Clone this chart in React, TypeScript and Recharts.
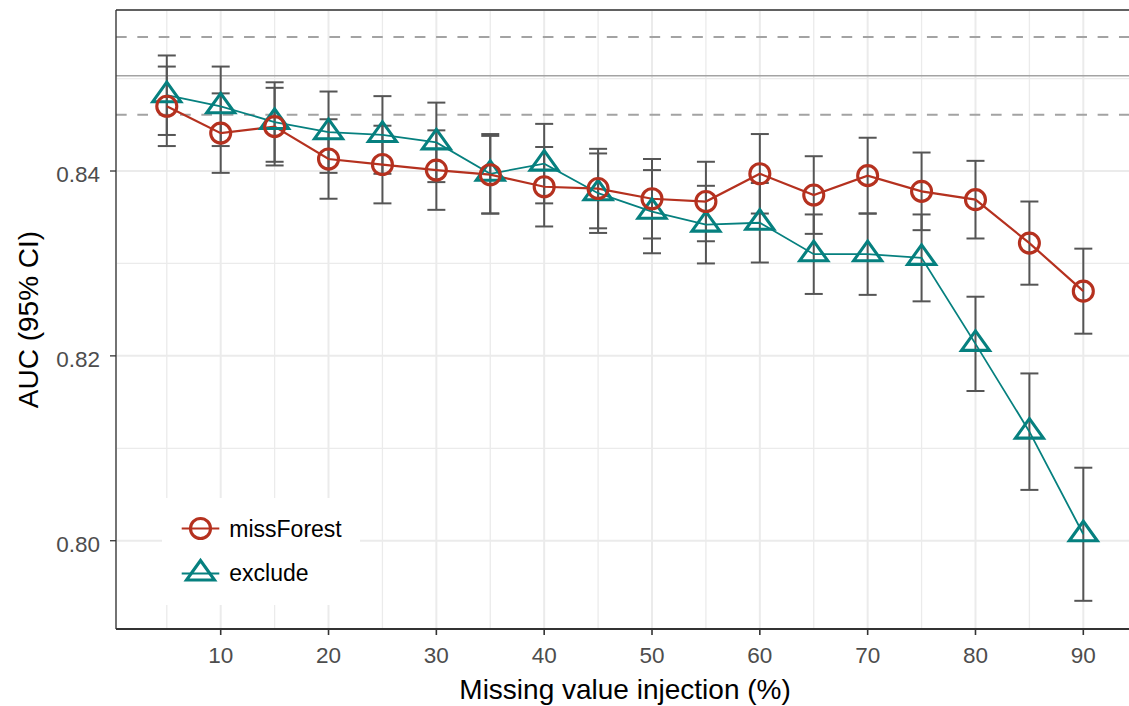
import React from 'react';
import { ComposedChart, Line, XAxis, YAxis, ReferenceLine, ErrorBar, CartesianGrid } from 'recharts';

const injection = [5, 10, 15, 20, 25, 30, 35, 40, 45, 50, 55, 60, 65, 70, 75, 80, 85, 90];
const missForestAUC = [0.8470, 0.8441, 0.8448, 0.8413, 0.8407, 0.8401, 0.8396, 0.8383, 0.8381, 0.8370, 0.8367, 0.8397, 0.8374, 0.8395, 0.8378, 0.8369, 0.8322, 0.8270];
const missForestCI = [0.0043, 0.0043, 0.0042, 0.0043, 0.0042, 0.0043, 0.0042, 0.0043, 0.0043, 0.0043, 0.0043, 0.0043, 0.0042, 0.0041, 0.0042, 0.0042, 0.0045, 0.0046];
const excludeAUC = [0.8482, 0.8470, 0.8453, 0.8442, 0.8439, 0.8431, 0.8397, 0.8408, 0.8376, 0.8356, 0.8342, 0.8344, 0.8310, 0.8310, 0.8306, 0.8213, 0.8118, 0.8007];
const excludeCI = [0.0043, 0.0043, 0.0043, 0.0044, 0.0042, 0.0043, 0.0043, 0.0043, 0.0043, 0.0045, 0.0042, 0.0043, 0.0043, 0.0044, 0.0047, 0.0051, 0.0063, 0.0072];

const xTicks = [10, 20, 30, 40, 50, 60, 70, 80, 90];
const xMinor = [5, 15, 25, 35, 45, 55, 65, 75, 85];
const yTicks = [0.8, 0.82, 0.84];
const yTickLabels = ['0.80', '0.82', '0.84'];
const yMinor = [0.81, 0.83, 0.85];
const xDomain = [0.29, 94.71];
const yDomain = [0.79045, 0.85742];

const refMean = 0.8503;
const refLow = 0.8461;
const refHigh = 0.8545;

const seriesNames = ['missForest', 'exclude'];
const RED = '#B5311F';
const TEAL = '#06807F';
const FONT = '"Liberation Sans", Arial, Helvetica, sans-serif';

const data = injection.map((x, i) => ({
  x,
  mf: missForestAUC[i],
  mfErr: missForestCI[i],
  ex: excludeAUC[i],
  exErr: excludeCI[i],
}));

const CircleDot = (props: any) => {
  const { cx, cy, index } = props;
  if (cx == null || cy == null) return <g key={`c${index}`} />;
  return <circle key={`c${index}`} cx={cx} cy={cy} r={10} fill="none" stroke={RED} strokeWidth={3.1} />;
};

const triPath = (cx: number, cy: number) =>
  `M${cx},${cy - 13} L${cx + 14},${cy + 6.5} L${cx - 14},${cy + 6.5} Z`;

const TriangleDot = (props: any) => {
  const { cx, cy, index } = props;
  if (cx == null || cy == null) return <g key={`t${index}`} />;
  return <path key={`t${index}`} d={triPath(cx, cy)} fill="none" stroke={TEAL} strokeWidth={3.1} strokeLinejoin="miter" />;
};

const XTick = (props: any) => {
  const { x, y, payload } = props;
  return (
    <text x={x} y={y + 25.5} textAnchor="middle" fill="#4D4D4D" fontSize={22.5} fontFamily={FONT}>
      {payload.value}
    </text>
  );
};

const YTick = (props: any) => {
  const { x, y, payload } = props;
  const idx = yTicks.findIndex((v) => Math.abs(v - payload.value) < 1e-6);
  const label = idx >= 0 ? yTickLabels[idx] : String(payload.value);
  return (
    <text x={x - 8} y={y + 11.3} textAnchor="end" fill="#4D4D4D" fontSize={22.5} fontFamily={FONT}>
      {label}
    </text>
  );
};

const YTitle = (props: any) => {
  const vb = props.viewBox || { x: 16, y: 10, width: 100, height: 619 };
  const cy = vb.y + vb.height / 2;
  return (
    <text x={37.5} y={cy} transform={`rotate(-90, 37.5, ${cy})`} textAnchor="middle" fill="#000" fontSize={28} fontFamily={FONT}>
      AUC (95% CI)
    </text>
  );
};

const XTitle = (props: any) => {
  const vb = props.viewBox || { x: 116, y: 629, width: 1018, height: 50 };
  const cx = vb.x + vb.width / 2;
  return (
    <text x={cx} y={699} textAnchor="middle" fill="#000" fontSize={28} fontFamily={FONT}>
      Missing value injection (%)
    </text>
  );
};

export default function App() {
  return (
    <div style={{ position: 'absolute', left: 0, top: 0, width: 1129, height: 706, overflow: 'hidden', background: '#fff' }}>
      <ComposedChart width={1140} height={706} data={data} margin={{ top: 10, right: 5.9, bottom: 27, left: 16 }}>
        <CartesianGrid xAxisId="minor" yAxisId="minor" stroke="#EBEBEB" strokeWidth={1.3} />
        <CartesianGrid stroke="#EBEBEB" strokeWidth={2} />
        <XAxis xAxisId="minor" dataKey="x" type="number" domain={xDomain} ticks={xMinor} allowDataOverflow hide />
        <YAxis yAxisId="minor" type="number" domain={yDomain} ticks={yMinor} allowDataOverflow hide />
        <XAxis
          dataKey="x"
          type="number"
          domain={xDomain}
          ticks={xTicks}
          allowDataOverflow
          height={50}
          tickSize={6}
          axisLine={{ stroke: '#333333', strokeWidth: 2.2 }}
          tickLine={{ stroke: '#333333', strokeWidth: 1.6 }}
          tick={<XTick />}
          label={<XTitle />}
        />
        <YAxis
          type="number"
          domain={yDomain}
          ticks={yTicks}
          allowDataOverflow
          width={100}
          tickSize={6}
          axisLine={{ stroke: '#333333', strokeWidth: 1.3 }}
          tickLine={{ stroke: '#333333', strokeWidth: 1.3 }}
          tick={<YTick />}
          label={<YTitle />}
        />
        <Line xAxisId="minor" yAxisId="minor" dataKey="mf" stroke="none" dot={false} activeDot={false} isAnimationActive={false} legendType="none" />
        <ReferenceLine y={yDomain[1]} stroke="#333333" strokeWidth={1.3} />
        <ReferenceLine y={refHigh} stroke="#A3A3A3" strokeWidth={2} strokeDasharray="10.67 10.67" />
        <ReferenceLine y={refMean} stroke="#A3A3A3" strokeWidth={1.6} />
        <ReferenceLine y={refLow} stroke="#A3A3A3" strokeWidth={2} strokeDasharray="10.67 10.67" />
        <Line dataKey="ex" stroke="none" dot={false} activeDot={false} isAnimationActive={false} legendType="none">
          <ErrorBar dataKey="exErr" width={9} stroke="#555555" strokeWidth={2} direction="y" isAnimationActive={false} />
        </Line>
        <Line dataKey="mf" stroke="none" dot={false} activeDot={false} isAnimationActive={false} legendType="none">
          <ErrorBar dataKey="mfErr" width={9} stroke="#555555" strokeWidth={2} direction="y" isAnimationActive={false} />
        </Line>
        <Line dataKey="ex" name={seriesNames[1]} type="linear" stroke={TEAL} strokeWidth={1.8} dot={<TriangleDot />} activeDot={false} isAnimationActive={false} />
        <Line dataKey="mf" name={seriesNames[0]} type="linear" stroke={RED} strokeWidth={2.2} dot={<CircleDot />} activeDot={false} isAnimationActive={false} />
      </ComposedChart>
      <svg style={{ position: 'absolute', left: 162, top: 498 }} width={198} height={107}>
        <rect x={0} y={0} width={198} height={107} fill="#fff" />
        <line x1={19.7} x2={57.3} y1={30.5} y2={30.5} stroke={RED} strokeWidth={2.2} />
        <circle cx={38.5} cy={30.5} r={10} fill="none" stroke={RED} strokeWidth={3.1} />
        <text x={67.3} y={38.7} fontSize={23} fontFamily={FONT} fill="#000">{seriesNames[0]}</text>
        <line x1={19.7} x2={57.3} y1={75.5} y2={75.5} stroke={TEAL} strokeWidth={2.2} />
        <path d={triPath(38.5, 75.5)} fill="none" stroke={TEAL} strokeWidth={3.1} />
        <text x={67.3} y={83} fontSize={23} fontFamily={FONT} fill="#000">{seriesNames[1]}</text>
      </svg>
    </div>
  );
}
